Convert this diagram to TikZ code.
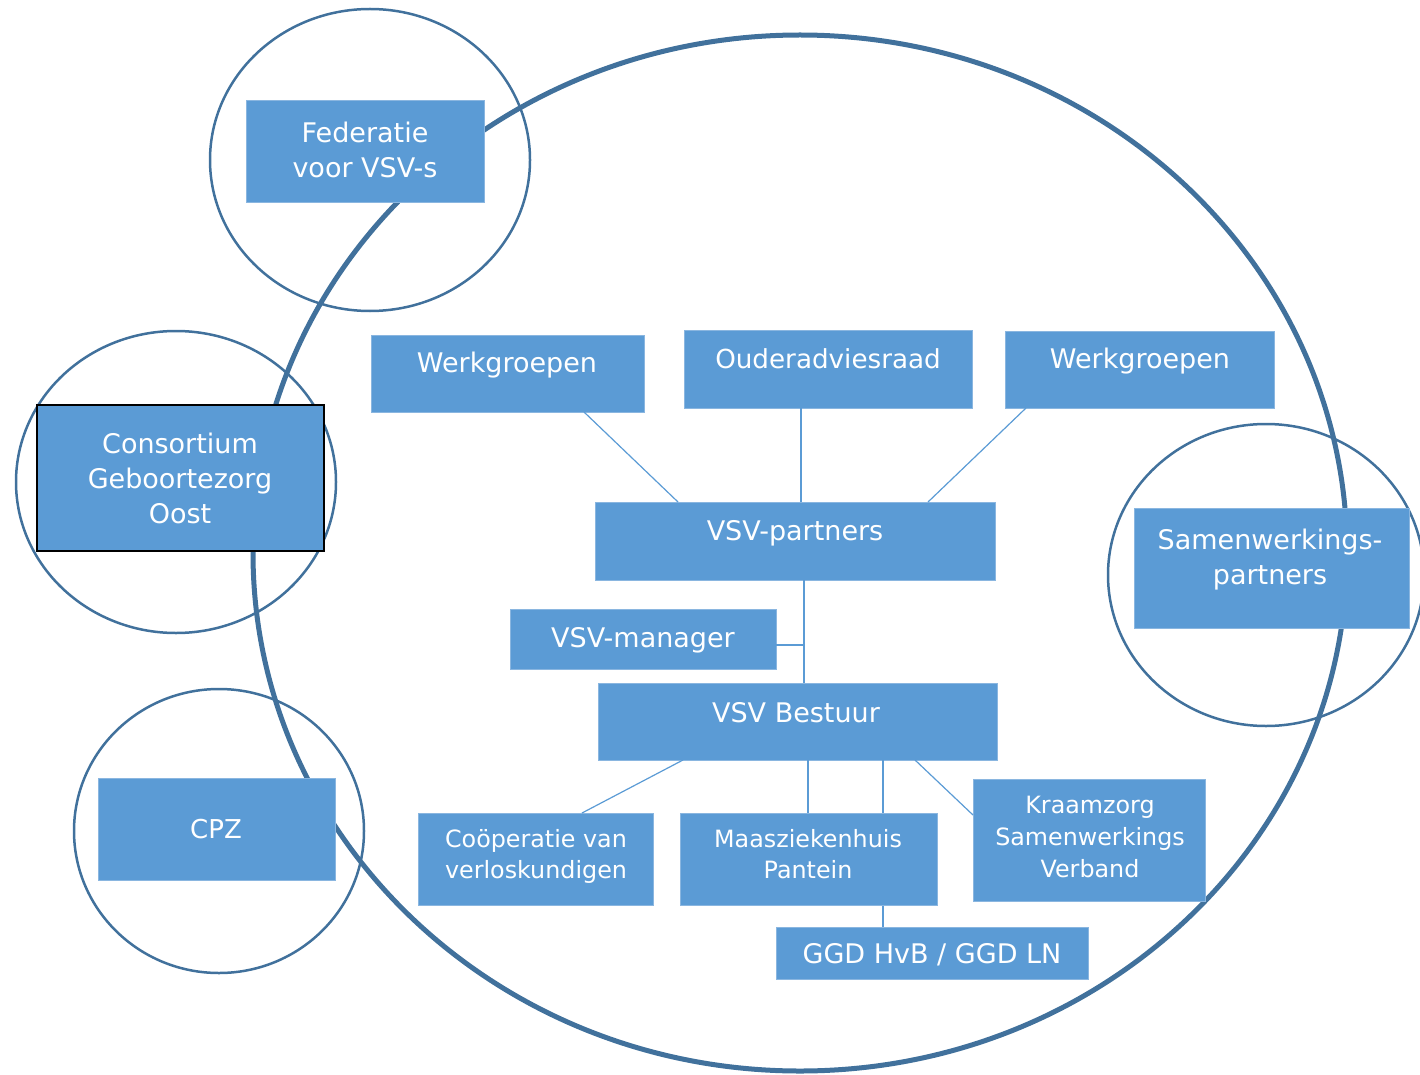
\documentclass[tikz,border=0pt]{standalone}
\usepackage{fontspec}
\setmainfont{DejaVu Sans}
\usetikzlibrary{calc}
\definecolor{boxblue}{HTML}{5B9BD5}
\definecolor{ringblue}{HTML}{41719C}
\definecolor{edgeblue}{HTML}{8AB6E0}
\tikzset{
 box/.style={rectangle, fill=boxblue, draw=edgeblue, line width=1pt, inner sep=0pt, outer sep=0pt},
 txt/.style={text=white, inner sep=0pt, align=center, anchor=base, font=\fontsize{27}{35}\selectfont},
 smalltxt/.style={font=\fontsize{23.8}{30.5}\selectfont},
 ring/.style={draw=ringblue, line width=2.5pt},
 bigring/.style={draw=ringblue, line width=5pt},
 link/.style={draw=boxblue, line width=1.2pt},
}
\begin{document}
\begin{tikzpicture}[x=1pt,y=-1pt]
\useasboundingbox (0,0) rectangle (1420,1075);
\clip (0,0) rectangle (1420,1075);
% rings
\draw[bigring] (800,553) ellipse [x radius=547pt, y radius=518pt];
\draw[ring] (370,160) ellipse [x radius=160pt, y radius=151pt];
\draw[ring] (176,482) ellipse [x radius=160pt, y radius=151pt];
\draw[ring] (219,831) ellipse [x radius=145pt, y radius=142pt];
\draw[ring] (1266,575) ellipse [x radius=158pt, y radius=151pt];
% boxes
\node[box, minimum width=238pt, minimum height=102pt] (fed) at (365,152) {};
\node[box, draw=black, line width=1.5pt, minimum width=287pt, minimum height=146pt] (cons) at (180.5,478) {};
\node[box, minimum width=237pt, minimum height=102pt] (cpz) at (216.5,829) {};
\node[box, minimum width=275pt, minimum height=120pt] (samen) at (1271.5,568) {};
\node[box, minimum width=273pt, minimum height=77pt] (wg1) at (507.5,373.5) {};
\node[box, minimum width=288pt, minimum height=78pt] (oud) at (828,369) {};
\node[box, minimum width=269pt, minimum height=77pt] (wg2) at (1139.5,369.5) {};
\node[box, minimum width=400pt, minimum height=78pt] (part) at (795,541) {};
\node[box, minimum width=266pt, minimum height=60pt] (man) at (643,639) {};
\node[box, minimum width=399pt, minimum height=77pt] (best) at (797.5,721.5) {};
\node[box, minimum width=235pt, minimum height=92pt] (coop) at (535.5,859) {};
\node[box, minimum width=312pt, minimum height=52pt] (ggd) at (932,953) {};
% connectors
\coordinate (mj) at (804,645);
\draw[link] ($(best.south west)+(285,0)$) -- ($(ggd.north west)+(107,0)$);
\node[box, minimum width=257pt, minimum height=92pt] (maas) at (808.5,859) {};
\node[box, minimum width=232pt, minimum height=122pt] (kraam) at (1089,840) {};
\draw[link] ($(wg1.south west)+(213,0)$) -- ($(part.north west)+(83,0)$);
\draw[link] ($(oud.south west)+(117,0)$) -- ($(part.north west)+(206,0)$);
\draw[link] ($(wg2.south west)+(21,0)$) -- ($(part.north west)+(333,0)$);
\draw[link] ($(part.south west)+(209,0)$) -- ($(best.north west)+(206,0)$);
\draw[link] (man.east|-mj) -- (mj);
\draw[link] ($(best.south west)+(85,0)$) -- ($(coop.north west)+(164,0)$);
\draw[link] ($(best.south west)+(210,0)$) -- ($(maas.north west)+(128,0)$);
\draw[link] ($(best.south west)+(317,0)$) -- ($(kraam.north west)+(0,36)$);
% texts (base anchor = baseline of the last line)
\node[txt] (fedt) at (365,178) {Federatie\\voor VSV-s};
\node[txt] (const) at (180,523) {Consortium\\Geboortezorg\\Oost};
\node[txt, font=\fontsize{26}{35}\selectfont] (cpzt) at (216,838) {CPZ};
\node[txt] (samt) at (1270,584) {Samenwerkings-\\partners};
\node[txt] (wg1t) at (507,372) {Werkgroepen};
\node[txt, font=\fontsize{26.2}{35}\selectfont] (oudt) at (828,368) {Ouderadviesraad};
\node[txt] (wg2t) at (1140,368) {Werkgroepen};
\node[txt] (partt) at (795,540) {VSV-partners};
\node[txt] (mant) at (643,647) {VSV-manager};
\node[txt] (bestt) at (796,722) {VSV Bestuur};
\node[txt, smalltxt] (coopt) at (536,878) {Coöperatie van\\verloskundigen};
\node[txt, smalltxt] (maast) at (808,878) {Maasziekenhuis\\Pantein};
\node[txt, font=\fontsize{23.8}{32}\selectfont] (kraamt) at (1090,877) {Kraamzorg\\Samenwerkings\\Verband};
\node[txt, font=\fontsize{27}{30}\selectfont] (ggdt) at (932,963) {GGD HvB / GGD LN};
\end{tikzpicture}
\end{document}
